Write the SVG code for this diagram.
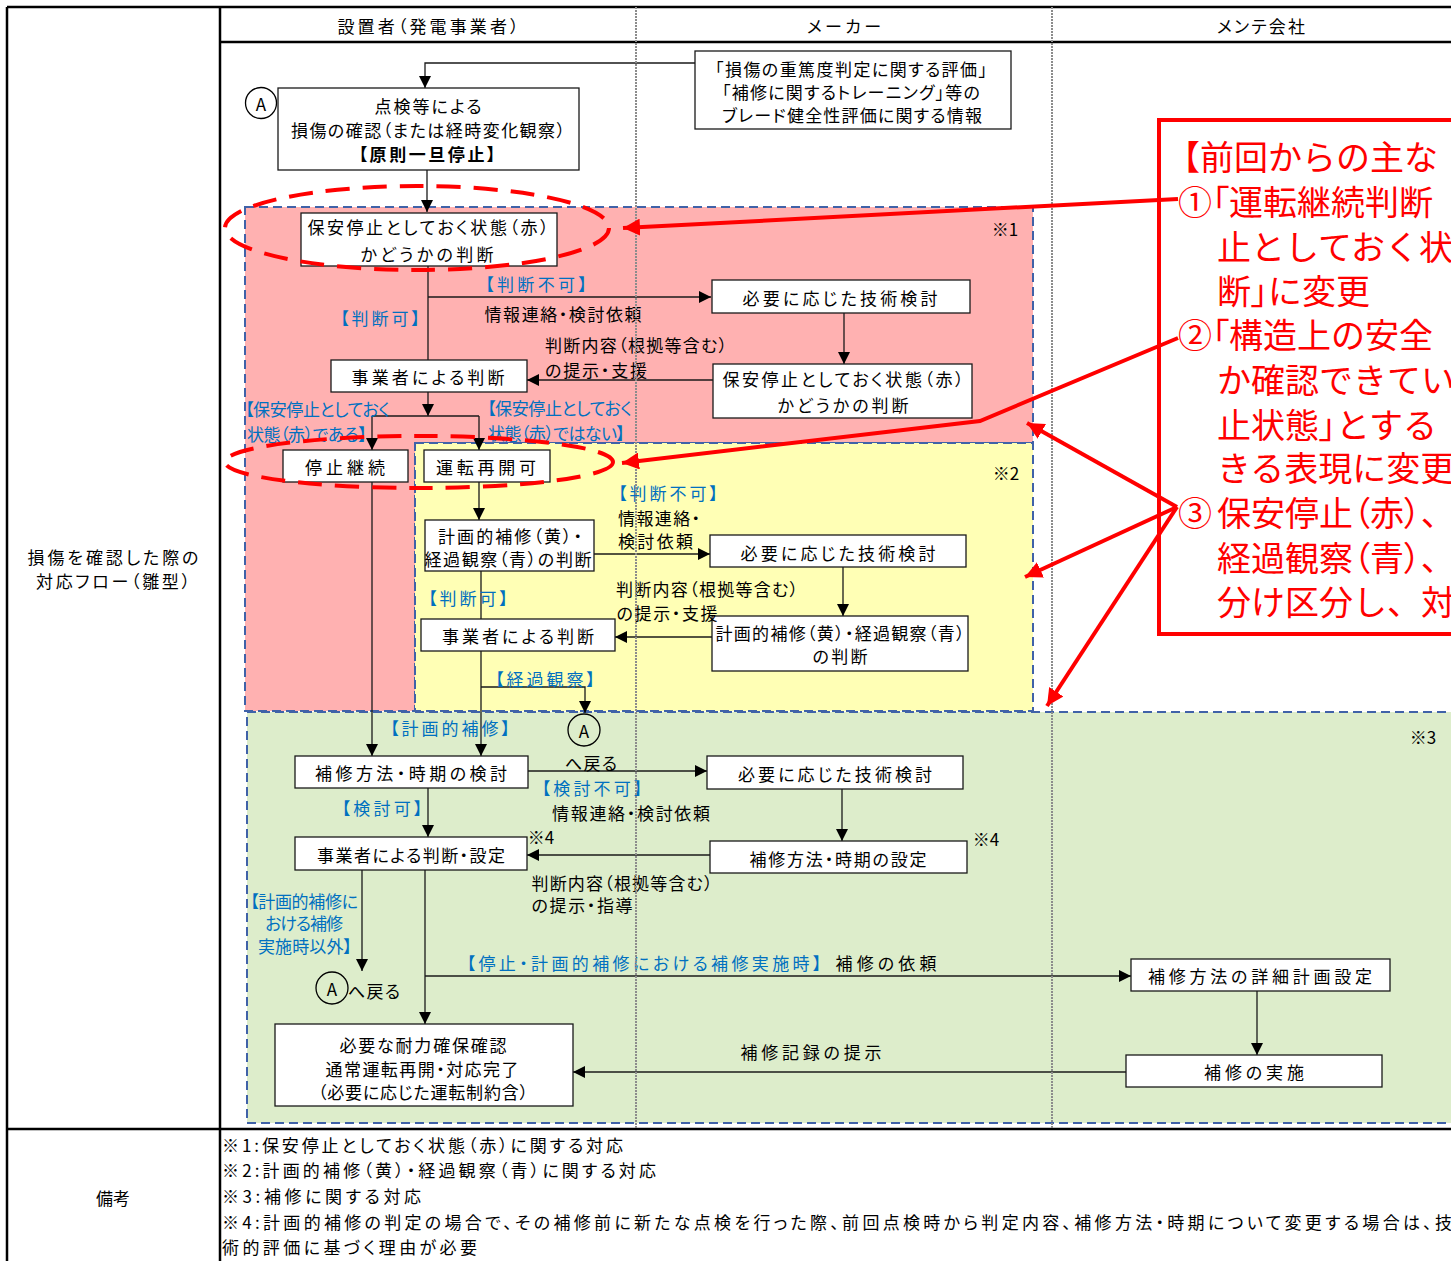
<svg xmlns="http://www.w3.org/2000/svg" width="1451" height="1261" viewBox="0 0 1451 1261">
<style>
.t{font-family:"Noto Sans CJK JP","Noto Sans CJK SC",sans-serif;font-size:17px;fill:#000;dominant-baseline:central;text-anchor:middle;font-feature-settings:"palt"}
.s{text-anchor:start}
.b{fill:#0070C0}
.box{fill:#fff;stroke:#1a1a1a;stroke-width:1.3}
.cn{fill:none;stroke:#1a1a1a;stroke-width:1.3}
.ar{marker-end:url(#ah)}
.rg{stroke:#4062A8;stroke-width:2;stroke-dasharray:9,5}
.tl{stroke:#000;stroke-width:2.5;fill:none}
.col{stroke:#8c8c8c;stroke-width:2;stroke-dasharray:2,1;fill:none}
.re{fill:none;stroke:#f00;stroke-width:4;stroke-dasharray:24,13}
.rl{fill:none;stroke:#f00;stroke-width:4;marker-end:url(#rah)}
.rt{font-family:"Noto Sans CJK JP","Noto Sans CJK SC",sans-serif;font-size:34px;fill:#f00;dominant-baseline:central}
.p{font-feature-settings:"palt"}
</style>
<defs>
<marker id="ah" viewBox="0 0 10 10" refX="10" refY="5" markerWidth="12" markerHeight="12" markerUnits="userSpaceOnUse" orient="auto"><path d="M0,0 L10,5 L0,10 z" fill="#000"/></marker>
<marker id="rah" viewBox="0 0 10 10" refX="10" refY="5" markerWidth="17" markerHeight="17" markerUnits="userSpaceOnUse" orient="auto"><path d="M0,0 L10,5 L0,10 z" fill="#f00"/></marker>
</defs>
<rect x="0" y="0" width="1451" height="1261" fill="#fff"/>

<g id="regions">
<path d="M245,207 H1033 V443 H415 V711 H245 Z" fill="#FFB1B1" class="rg"/>
<rect x="415" y="443" width="618" height="268" fill="#FFFFB5" class="rg"/>
<rect x="247" y="712" width="1220" height="411" fill="#DDEDCB" class="rg"/>
</g>

<g id="table">
<path class="tl" d="M7,7 H1451 M7,7 V1261 M220,7 V1261 M220,42 H1451 M7,1129 H1451"/>
<text class="t" x="428" y="25" font-size="18" textLength="181">設置者（発電事業者）</text>
<text class="t" x="844" y="25" font-size="18" textLength="74">メーカー</text>
<text class="t" x="1261" y="25" font-size="18" textLength="88">メンテ会社</text>
<text class="t" x="113" y="556" font-size="18" textLength="171">損傷を確認した際の</text>
<text class="t" x="113" y="580" font-size="18" textLength="154">対応フロー（雛型）</text>
<text class="t" x="113" y="1197" font-size="18">備考</text>
</g>

<g id="connectors">
<path class="cn ar" d="M695,63 H425 V88"/>
<path class="cn ar" d="M427,170 V212"/>
<path class="cn" d="M428,266 V360"/>
<path class="cn ar" d="M428,297 H711"/>
<path class="cn ar" d="M844,313 V364"/>
<path class="cn ar" d="M713,380 H527"/>
<path class="cn ar" d="M428,392 V416"/>
<path class="cn" d="M372,416 H479"/>
<path class="cn ar" d="M372,416 V450"/>
<path class="cn ar" d="M479,416 V450"/>
<path class="cn ar" d="M372,482 V756"/>
<path class="cn ar" d="M479,482 V520"/>
<path class="cn ar" d="M594,554 H710"/>
<path class="cn ar" d="M843,567 V616"/>
<path class="cn ar" d="M712,637 H615"/>
<path class="cn" d="M481,571 V619"/>
<path class="cn ar" d="M481,651 V756"/>
<path class="cn ar" d="M481,687 H585 V713"/>
<path class="cn ar" d="M528,771 H707"/>
<path class="cn ar" d="M428,788 V837"/>
<path class="cn ar" d="M842,789 V841"/>
<path class="cn ar" d="M710,855 H527"/>
<path class="cn ar" d="M362,870 V971"/>
<path class="cn ar" d="M425,870 V1024"/>
<path class="cn ar" d="M425,976 H1131"/>
<path class="cn ar" d="M1257,991 V1055"/>
<path class="cn ar" d="M1126,1072 H573"/>
</g>

<g id="nodeA1"><circle cx="261" cy="103" r="15.5" fill="none" stroke="#000" stroke-width="1.3"/><text class="t" x="261" y="103" font-size="19">A</text></g>
<g id="n-inspect">
<rect class="box" x="278" y="88" width="301" height="82"/>
<text class="t" x="428" y="105" font-size="18" textLength="107">点検等による</text>
<text class="t" x="428" y="129" font-size="18" textLength="274">損傷の確認（または経時変化観察）</text>
<text class="t" x="427" y="153" font-size="18" textLength="137" font-weight="bold">【原則一旦停止】</text>
</g>
<g id="n-info">
<rect class="box" x="695" y="51" width="316" height="78"/>
<text class="t" x="851" y="68" textLength="272">「損傷の重篤度判定に関する評価」</text>
<text class="t" x="851" y="91" textLength="258">「補修に関するトレーニング」等の</text>
<text class="t" x="852" y="114" textLength="260">ブレード健全性評価に関する情報</text>
</g>
<g id="n-red1">
<rect class="box" x="301" y="213" width="256" height="53"/>
<text class="t" x="428" y="226" font-size="19" textLength="241">保安停止としておく状態（赤）</text>
<text class="t" x="427" y="253" font-size="19" textLength="133">かどうかの判断</text>
</g>
<g id="n-tech1">
<rect class="box" x="712" y="280" width="258" height="33"/>
<text class="t" x="840" y="297" font-size="19" textLength="195">必要に応じた技術検討</text>
</g>
<g id="n-red2">
<rect class="box" x="713" y="364" width="259" height="54"/>
<text class="t" x="843" y="378" font-size="19" textLength="241">保安停止としておく状態（赤）</text>
<text class="t" x="843" y="404" font-size="19" textLength="131">かどうかの判断</text>
</g>
<g id="n-judge1">
<rect class="box" x="331" y="360" width="196" height="32"/>
<text class="t" x="428" y="376" font-size="19" textLength="153">事業者による判断</text>
</g>
<g id="n-stop">
<rect class="box" x="283" y="450" width="125" height="32"/>
<text class="t" x="345" y="466" font-size="19" textLength="80">停止継続</text>
</g>
<g id="n-restart">
<rect class="box" x="424" y="450" width="126" height="32"/>
<text class="t" x="486" y="466" font-size="19" textLength="100">運転再開可</text>
</g>
<g id="n-yb1">
<rect class="box" x="425" y="520" width="169" height="51"/>
<text class="t" x="510" y="535" textLength="144">計画的補修（黄）・</text>
<text class="t" x="508" y="558" textLength="167">経過観察（青）の判断</text>
</g>
<g id="n-tech2">
<rect class="box" x="710" y="535" width="256" height="32"/>
<text class="t" x="838" y="552" font-size="19" textLength="195">必要に応じた技術検討</text>
</g>
<g id="n-yb2">
<rect class="box" x="712" y="616" width="256" height="55"/>
<text class="t" x="840" y="632" textLength="249">計画的補修（黄）・経過観察（青）</text>
<text class="t" x="840" y="655" textLength="55">の判断</text>
</g>
<g id="n-judge2">
<rect class="box" x="421" y="619" width="194" height="32"/>
<text class="t" x="518" y="635" font-size="19" textLength="152">事業者による判断</text>
</g>
<g id="n-method">
<rect class="box" x="295" y="756" width="233" height="32"/>
<text class="t" x="411" y="772" font-size="19" textLength="192">補修方法・時期の検討</text>
</g>
<g id="n-tech3">
<rect class="box" x="707" y="756" width="256" height="33"/>
<text class="t" x="835" y="773" font-size="19" textLength="194">必要に応じた技術検討</text>
</g>
<g id="n-judge3">
<rect class="box" x="295" y="837" width="232" height="33"/>
<text class="t" x="411" y="854" font-size="18" textLength="188">事業者による判断・設定</text>
</g>
<g id="n-setting">
<rect class="box" x="710" y="841" width="257" height="32"/>
<text class="t" x="838" y="858" font-size="18" textLength="177">補修方法・時期の設定</text>
</g>
<g id="n-detail">
<rect class="box" x="1131" y="959" width="259" height="32"/>
<text class="t" x="1260" y="975" font-size="19" textLength="224">補修方法の詳細計画設定</text>
</g>
<g id="n-exec">
<rect class="box" x="1126" y="1055" width="256" height="32"/>
<text class="t" x="1254" y="1071" font-size="19" textLength="100">補修の実施</text>
</g>
<g id="n-final">
<rect class="box" x="275" y="1024" width="298" height="82"/>
<text class="t" x="423" y="1044" font-size="18" textLength="167">必要な耐力確保確認</text>
<text class="t" x="422" y="1068" font-size="18" textLength="193">通常運転再開・対応完了</text>
<text class="t" x="423" y="1091" font-size="18" textLength="210">（必要に応じた運転制約含）</text>
</g>
<g id="nodeA2"><circle cx="584" cy="730" r="16" fill="none" stroke="#000" stroke-width="1.3"/><text class="t" x="584" y="730" font-size="19">A</text></g>
<g id="nodeA3"><circle cx="332" cy="988" r="16" fill="none" stroke="#000" stroke-width="1.3"/><text class="t" x="332" y="988" font-size="19">A</text></g>

<g id="labels">
<text class="t b" x="536" y="283" font-size="18" textLength="102">【判断不可】</text>
<text class="t b" x="380" y="317" font-size="18" textLength="80">【判断可】</text>
<text class="t" x="563" y="313" textLength="157">情報連絡・検討依頼</text>
<text class="t" x="636" y="344" textLength="182">判断内容（根拠等含む）</text>
<text class="t" x="596" y="369" textLength="102">の提示・支援</text>
<text class="t b s" x="245" y="408" font-size="15" textLength="145">【保安停止としておく</text>
<text class="t b s" x="247" y="433" font-size="15" textLength="120">状態（赤）である】</text>
<text class="t b s" x="487" y="407" font-size="15" textLength="145">【保安停止としておく</text>
<text class="t b s" x="488" y="432" font-size="15" textLength="137">状態（赤）ではない】</text>
<text class="t" x="1005" y="228" font-size="16">※1</text>
<text class="t" x="1006" y="472" font-size="16">※2</text>
<text class="t" x="1423" y="736" font-size="16">※3</text>
<text class="t b" x="668" y="492" font-size="18" textLength="100">【判断不可】</text>
<text class="t s" x="618" y="517" textLength="82">情報連絡・</text>
<text class="t s" x="618" y="540" textLength="75">検討依頼</text>
<text class="t b" x="468" y="597" font-size="18" textLength="80">【判断可】</text>
<text class="t" x="707" y="588" textLength="182">判断内容（根拠等含む）</text>
<text class="t" x="667" y="612" textLength="101">の提示・支援</text>
<text class="t b" x="545" y="678" font-size="18" textLength="100">【経過観察】</text>
<text class="t b" x="450" y="727" font-size="18" textLength="120">【計画的補修】</text>
<text class="t" x="591" y="762" textLength="52">へ戻る</text>
<text class="t b" x="592" y="787" font-size="18" textLength="101">【検討不可】</text>
<text class="t" x="631" y="812" textLength="158">情報連絡・検討依頼</text>
<text class="t b" x="382" y="807" font-size="18" textLength="81">【検討可】</text>
<text class="t" x="541" y="836" font-size="16">※4</text>
<text class="t" x="986" y="838" font-size="16">※4</text>
<text class="t" x="622" y="882" textLength="181">判断内容（根拠等含む）</text>
<text class="t" x="582" y="904" textLength="101">の提示・指導</text>
<text class="t b" x="304" y="900" font-size="15" textLength="108">【計画的補修に</text>
<text class="t b" x="304" y="922" font-size="15" textLength="78">おける補修</text>
<text class="t b" x="305" y="945" font-size="15" textLength="94">実施時以外】</text>
<text class="t" x="374" y="990" textLength="52">へ戻る</text>
<text class="t b" x="644" y="962" font-size="18" textLength="355">【停止・計画的補修における補修実施時】</text>
<text class="t" x="886" y="962" font-size="18" textLength="101">補修の依頼</text>
<text class="t" x="811" y="1051" font-size="18" textLength="141">補修記録の提示</text>
</g>

<g id="notes">
<text class="t s" x="222" y="1144" font-size="19" textLength="401">※1:保安停止としておく状態（赤）に関する対応</text>
<text class="t s" x="222" y="1169" font-size="19" textLength="434">※2:計画的補修（黄）・経過観察（青）に関する対応</text>
<text class="t s" x="222" y="1195" font-size="19" textLength="199">※3:補修に関する対応</text>
<text class="t s" x="222" y="1221" font-size="19" textLength="1230">※4:計画的補修の判定の場合で、その補修前に新たな点検を行った際、前回点検時から判定内容、補修方法・時期について変更する場合は、技</text>
<text class="t s" x="222" y="1246" font-size="19" textLength="255">術的評価に基づく理由が必要</text>
</g>

<g id="columns">
<path class="col" d="M636,7 V1129 M1052,7 V1129"/>
</g>

<g id="annotation">
<ellipse class="re" cx="417" cy="228" rx="192" ry="42"/>
<ellipse class="re" cx="419" cy="462" rx="194" ry="26"/>
<rect x="1159" y="120" width="320" height="514" fill="#fff" stroke="#f00" stroke-width="4"/>
<text class="rt" x="1166" y="155">【前回からの主な</text>
<text class="rt" x="1178" y="200">①<tspan class="p">「</tspan>運転継続判断</text>
<text class="rt" x="1217" y="245">止としておく状態</text>
<text class="rt" x="1217" y="289">断<tspan class="p">」</tspan>に変更</text>
<text class="rt" x="1178" y="333">②<tspan class="p">「</tspan>構造上の安全</text>
<text class="rt" x="1217" y="378">か確認できてい</text>
<text class="rt" x="1217" y="423">止状態<tspan class="p">」</tspan>とする</text>
<text class="rt" x="1217" y="466">きる表現に変更</text>
<text class="rt p" x="1178" y="511">③<tspan x="1217">保安停止（赤）、</tspan></text>
<text class="rt p" x="1217" y="556">経過観察（青）、</text>
<text class="rt" x="1217" y="600">分け区分し、対</text>
<path class="rl" d="M1178,199 L623,228"/>
<path class="rl" d="M1178,338 L980,421 L622,463"/>
<path class="rl" d="M1177,507 L1027,423"/>
<path class="rl" d="M1177,507 L1025,577"/>
<path class="rl" d="M1177,507 L1047,706"/>
</g>
</svg>
